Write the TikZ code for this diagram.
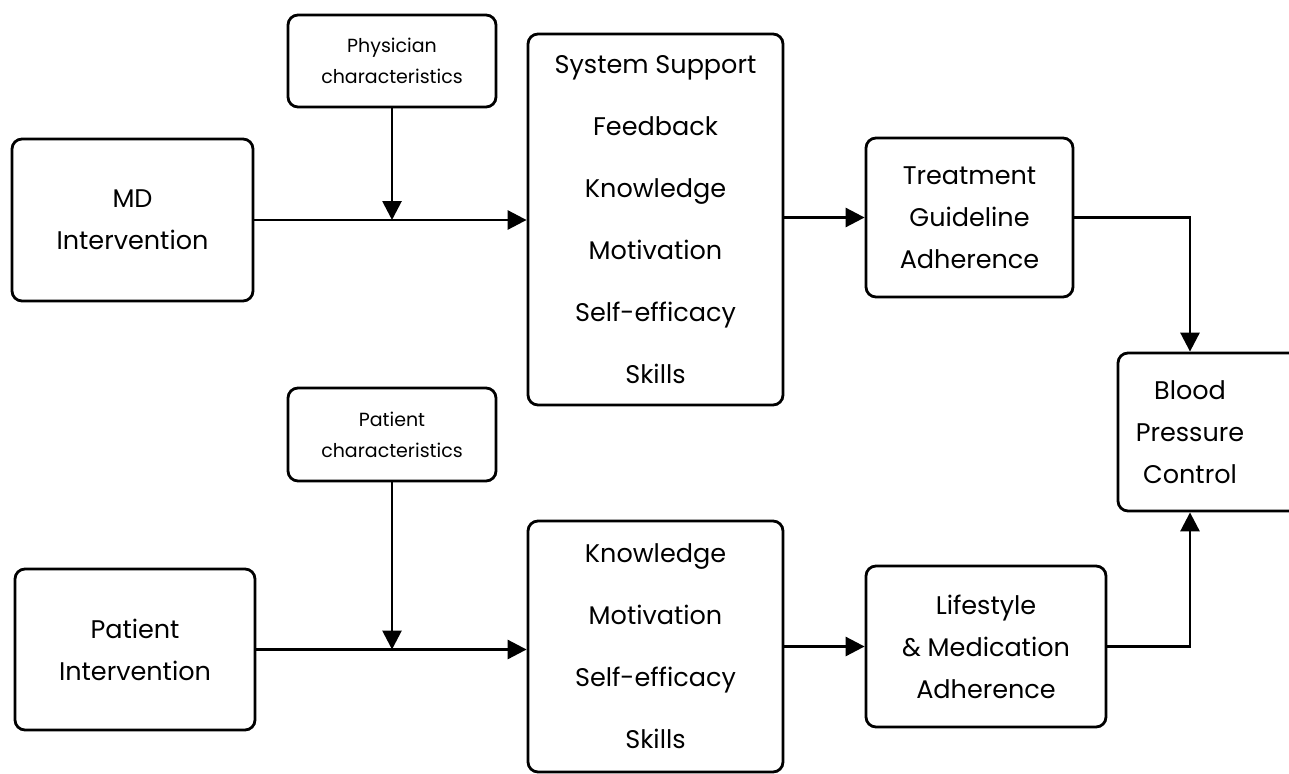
\documentclass[tikz,border=0pt]{standalone}
\usepackage{fontspec}
\setmainfont{Poppins}
\usetikzlibrary{arrows.meta}
\tikzset{
  box/.style={draw, line width=2.8pt, rounded corners=10pt, align=center, inner sep=0pt},
  big/.style={font=\fontsize{25.5}{42}\selectfont},
  list/.style={font=\fontsize{25.5}{62}\selectfont},
  small/.style={font=\fontsize{19}{31}\selectfont},
  conn/.style={line width=2.8pt},
  arr/.style={conn, -{Triangle[length=19pt,width=19pt]}},
}
\begin{document}
\begin{tikzpicture}[x=1pt,y=-1pt]
\useasboundingbox (0,0) rectangle (1289,773);
% top row
\node[box,big,minimum width=241pt,minimum height=162pt] (md) at (132.5,220) {MD\\Intervention};
\node[box,small,minimum width=208pt,minimum height=92pt] (phys) at (392,61) {Physician\\characteristics};
\node[box,list,minimum width=255pt,minimum height=371pt] (sys) at (655.5,219.5) {System Support\\Feedback\\Knowledge\\Motivation\\Self-efficacy\\Skills};
\node[box,big,minimum width=207pt,minimum height=159pt] (treat) at (969.5,217.5) {Treatment\\Guideline\\Adherence};
% blood pressure (runs past right edge)
\node[box,minimum width=222pt,minimum height=158pt] (bp) at (1229,432) {};
\node[big,align=center] (bptext) at (1190,432) {Blood\\Pressure\\Control};
% bottom row
\node[box,small,minimum width=208pt,minimum height=93pt] (pchar) at (392,434.5) {Patient\\characteristics};
\node[box,big,minimum width=240pt,minimum height=161pt] (pint) at (135,649.5) {Patient\\Intervention};
\node[box,list,minimum width=255pt,minimum height=251pt] (sys2) at (655.5,646.5) {Knowledge\\Motivation\\Self-efficacy\\Skills};
\node[box,big,minimum width=240pt,minimum height=161pt] (life) at (986,646.5) {Lifestyle\\\&\ Medication\\Adherence};
% connectors top
\draw[arr] (md.east) -- (md.east -| sys.west);
\draw[arr] (phys.south) -- (phys.south |- md.east);
\draw[arr] (sys.east |- treat.west) -- (treat.west);
\draw[arr] (treat.east) -| (bptext |- bp.north);
% connectors bottom
\draw[arr] (pint.east) -- (pint.east -| sys2.west);
\draw[arr] (pchar.south) -- (pchar.south |- pint.east);
\draw[arr] (sys2.east |- life.west) -- (life.west);
\draw[arr] (life.east) -| (bptext |- bp.south);
\end{tikzpicture}
\end{document}
